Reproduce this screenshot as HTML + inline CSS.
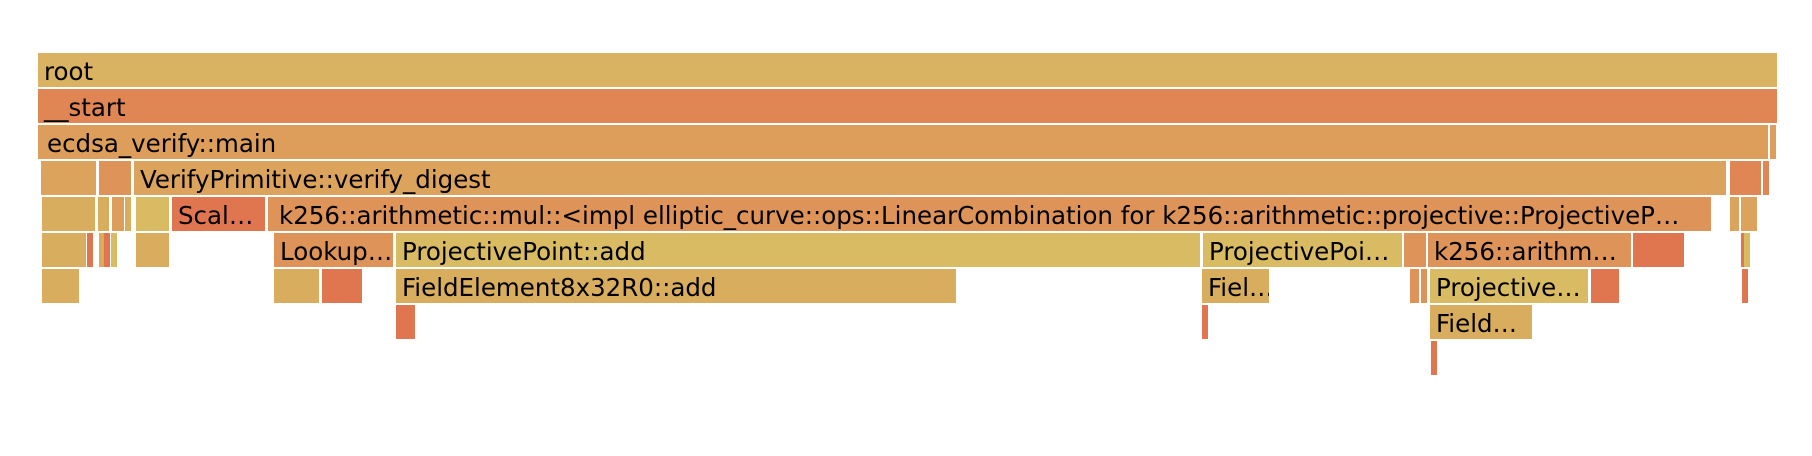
<!DOCTYPE html>
<html><head><meta charset="utf-8"><style>
body{margin:0;width:1812px;height:456px;background:#fff;position:relative;overflow:hidden;font-family:"DejaVu Sans","Liberation Sans",sans-serif;}
.b{position:absolute;height:34px;font-size:24.5px;line-height:37px;color:#000;white-space:nowrap;overflow:hidden;padding-left:6px;box-sizing:border-box;}
.Y{background:#d9b262}.S{background:#e08654}.M{background:#dc9e5a}.O{background:#dba35c}.K{background:#de9358}.R{background:#e07650}.L{background:#d9bb64}.D{background:#d9ad5e}
</style></head><body>
<div class="b Y" style="left:38px;top:53px;width:1739px">root</div>
<div class="b S" style="left:38px;top:89px;width:1739px">__start</div>
<div class="b M" style="left:38px;top:125px;width:2px"></div>
<div class="b M" style="left:41px;top:125px;width:1727px">ecdsa_verify::main</div>
<div class="b M" style="left:1770px;top:125px;width:2px"></div>
<div class="b O" style="left:41px;top:161px;width:55px"></div>
<div class="b K" style="left:99px;top:161px;width:32px"></div>
<div class="b O" style="left:134px;top:161px;width:1592px">VerifyPrimitive::verify_digest</div>
<div class="b S" style="left:1730px;top:161px;width:31px"></div>
<div class="b S" style="left:1763px;top:161px;width:2px"></div>
<div class="b D" style="left:42px;top:197px;width:53px"></div>
<div class="b D" style="left:98px;top:197px;width:11px"></div>
<div class="b M" style="left:112px;top:197px;width:12px"></div>
<div class="b D" style="left:125px;top:197px;width:3px"></div>
<div class="b L" style="left:136px;top:197px;width:33px"></div>
<div class="b R" style="left:172px;top:197px;width:93px">Scal…</div>
<div class="b K" style="left:268px;top:197px;width:3px"></div>
<div class="b K" style="left:273px;top:197px;width:1438px">k256::arithmetic::mul::&lt;impl elliptic_curve::ops::LinearCombination for k256::arithmetic::projective::ProjectiveP…</div>
<div class="b O" style="left:1730px;top:197px;width:9px"></div>
<div class="b O" style="left:1741px;top:197px;width:16px"></div>
<div class="b D" style="left:42px;top:233px;width:44px"></div>
<div class="b R" style="left:87px;top:233px;width:3px"></div>
<div class="b D" style="left:99px;top:233px;width:3px"></div>
<div class="b R" style="left:104px;top:233px;width:3px"></div>
<div class="b L" style="left:111px;top:233px;width:6px"></div>
<div class="b D" style="left:136px;top:233px;width:33px"></div>
<div class="b K" style="left:274px;top:233px;width:119px">Lookup…</div>
<div class="b L" style="left:396px;top:233px;width:804px">ProjectivePoint::add</div>
<div class="b L" style="left:1203px;top:233px;width:199px">ProjectivePoi…</div>
<div class="b K" style="left:1404px;top:233px;width:3px"></div>
<div class="b K" style="left:1410px;top:233px;width:16px"></div>
<div class="b K" style="left:1428px;top:233px;width:203px">k256::arithm…</div>
<div class="b R" style="left:1633px;top:233px;width:51px"></div>
<div class="b R" style="left:1741px;top:233px;width:2px"></div>
<div class="b L" style="left:1744px;top:233px;width:4px"></div>
<div class="b D" style="left:42px;top:269px;width:2px"></div>
<div class="b D" style="left:46px;top:269px;width:33px"></div>
<div class="b D" style="left:274px;top:269px;width:45px"></div>
<div class="b R" style="left:322px;top:269px;width:40px"></div>
<div class="b D" style="left:396px;top:269px;width:560px">FieldElement8x32R0::add</div>
<div class="b D" style="left:1202px;top:269px;width:67px">Fiel…</div>
<div class="b K" style="left:1410px;top:269px;width:9px"></div>
<div class="b K" style="left:1421px;top:269px;width:2px"></div>
<div class="b L" style="left:1430px;top:269px;width:158px">Projective…</div>
<div class="b R" style="left:1591px;top:269px;width:28px"></div>
<div class="b R" style="left:1742px;top:269px;width:2px"></div>
<div class="b R" style="left:396px;top:305px;width:19px"></div>
<div class="b R" style="left:1202px;top:305px;width:2px"></div>
<div class="b D" style="left:1430px;top:305px;width:102px">Field…</div>
<div class="b R" style="left:1431px;top:341px;width:2px"></div>
</body></html>
